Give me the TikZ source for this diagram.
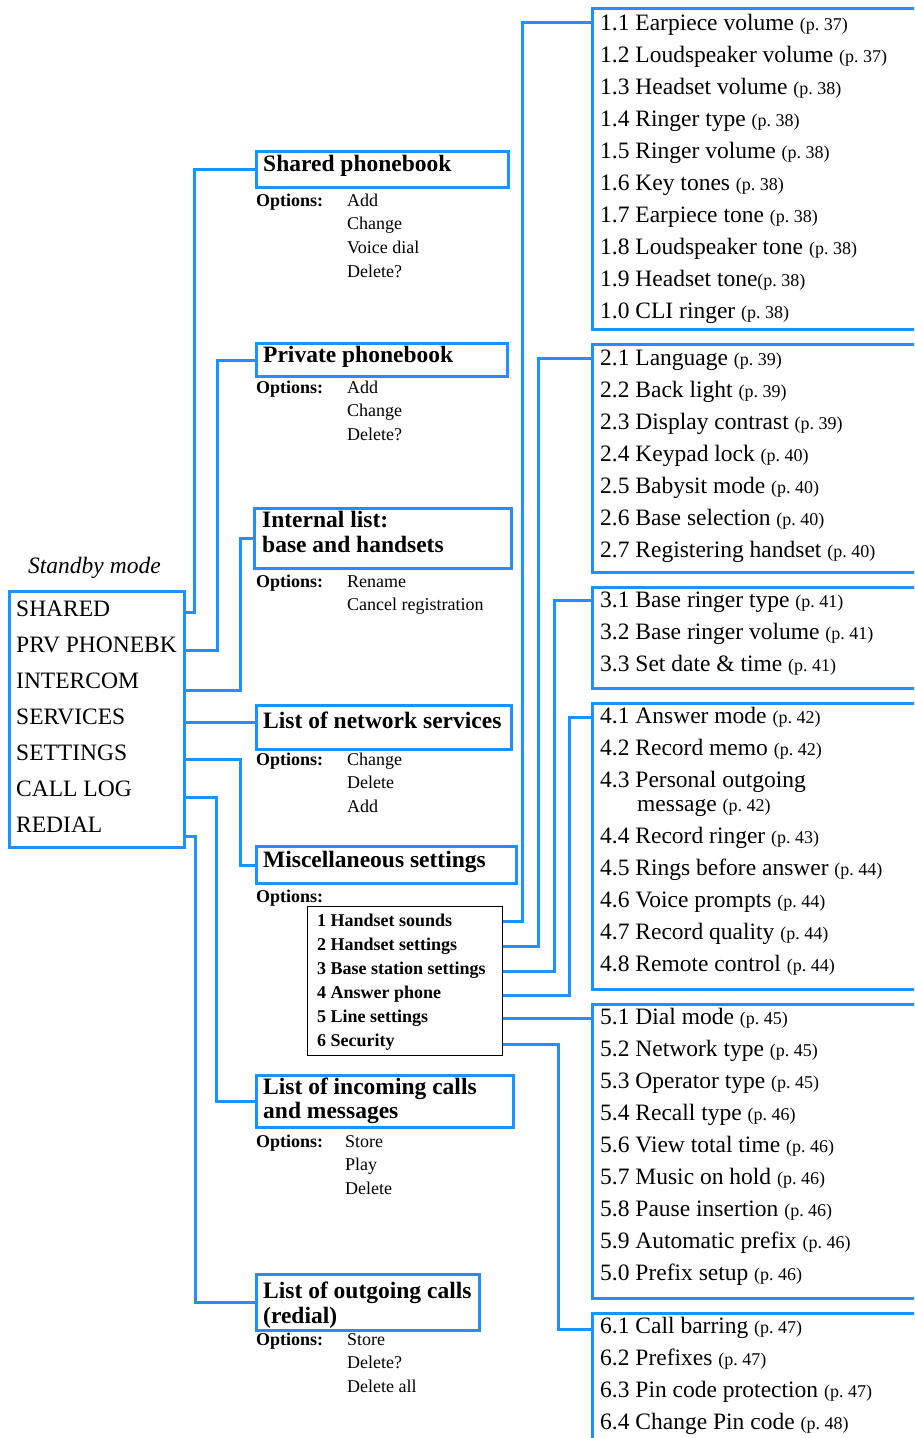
\documentclass[tikz,border=0pt]{standalone}
\usepackage{fontspec}
\setmainfont{Liberation Serif}
\definecolor{cblue}{RGB}{30,144,255}
\newcommand\mainsz{\fontsize{23.5}{28}\selectfont}
\newcommand\smallsz{\fontsize{18}{21}\selectfont}
\newcommand\pgnum[1]{{\smallsz(p.\ #1)}}
\begin{document}
\begin{tikzpicture}[x=1pt,y=-1pt,
  bbox/.style={draw=cblue, line width=3pt, rectangle, inner sep=0pt, anchor=north west},
  ibox/.style={draw=black, line width=1pt, rectangle, inner sep=0pt, anchor=north west},
  conn/.style={draw=cblue, line width=3pt, line join=miter},
  tx/.style={anchor=base west, inner sep=0pt, font=\mainsz},
  bt/.style={anchor=base west, inner sep=0pt, font=\mainsz\bfseries},
  op/.style={anchor=base west, inner sep=0pt, font=\smallsz\bfseries},
  oi/.style={anchor=base west, inner sep=0pt, font=\smallsz}]
\useasboundingbox (0,0) rectangle (914,1438);
\begin{scope}
\clip (0,0) rectangle (914,1438);

% ---------- standby box ----------
\node[tx, font=\mainsz\itshape] (sbt) at (28,573) {Standby mode};
\node[bbox, minimum width=175pt, minimum height=256pt] (sb) at (8,590) {};
\foreach \t [count=\i] in {SHARED, PRV PHONEBK, INTERCOM, SERVICES, SETTINGS, CALL LOG, REDIAL}
  \node[tx] (s\i) at (16,{616+36*(\i-1)}) {\t};

% ---------- middle boxes ----------
\node[bbox, minimum width=252pt, minimum height=36pt] (shp) at (255,150) {};
\node[bt] (shpt) at (263,171) {Shared phonebook};
\node[op] (shpo) at (256,206) {Options:};
\foreach \t [count=\i] in {Add, Change, Voice dial, Delete?}
  \node[oi] (shpi\i) at (347,{206+23.8*(\i-1)}) {\t};

\node[bbox, minimum width=251pt, minimum height=33pt] (pvp) at (255,342) {};
\node[bt] (pvpt) at (263,362) {Private phonebook};
\node[op] (pvpo) at (256,393) {Options:};
\foreach \t [count=\i] in {Add, Change, Delete?}
  \node[oi] (pvpi\i) at (347,{393+23.8*(\i-1)}) {\t};

\node[bbox, minimum width=257pt, minimum height=60pt] (inl) at (253,507) {};
\node[bt] (inlt1) at (262,527) {Internal list:};
\node[bt] (inlt2) at (262,552) {base and handsets};
\node[op] (inlo) at (256,587) {Options:};
\foreach \t [count=\i] in {Rename, Cancel registration}
  \node[oi] (inli\i) at (347,{587+23.8*(\i-1)}) {\t};

\node[bbox, minimum width=255pt, minimum height=44pt] (nws) at (255,704) {};
\node[bt] (nwst) at (263,728) {List of network services};
\node[op] (nwso) at (256,765) {Options:};
\foreach \t [count=\i] in {Change, Delete, Add}
  \node[oi] (nwsi\i) at (347,{765+23.8*(\i-1)}) {\t};

\node[bbox, minimum width=260pt, minimum height=37pt] (msc) at (255,845) {};
\node[bt] (msct) at (263,867) {Miscellaneous settings};
\node[op] (msco) at (256,902) {Options:};
\node[ibox, minimum width=195pt, minimum height=149pt] (mi) at (307,906) {};
\foreach \t [count=\i] in {1 Handset sounds, 2 Handset settings, 3 Base station settings, 4 Answer phone, 5 Line settings, 6 Security}
  \node[op] (mii\i) at (317,{926+24*(\i-1)}) {\t};

\node[bbox, minimum width=257pt, minimum height=52pt] (inc) at (255,1074) {};
\node[bt] (inct1) at (263,1094) {List of incoming calls};
\node[bt] (inct2) at (263,1118) {and messages};
\node[op] (inco) at (256,1147) {Options:};
\foreach \t [count=\i] in {Store, Play, Delete}
  \node[oi] (inci\i) at (345,{1147+23.8*(\i-1)}) {\t};

\node[bbox, minimum width=223pt, minimum height=56pt] (out) at (255,1273) {};
\node[bt] (outt1) at (263,1298) {List of outgoing calls};
\node[bt] (outt2) at (263,1323) {(redial)};
\node[op] (outo) at (256,1345) {Options:};
\foreach \t [count=\i] in {Store, Delete?, Delete all}
  \node[oi] (outi\i) at (347,{1345+23.8*(\i-1)}) {\t};

% ---------- right boxes ----------
\node[bbox, minimum width=334pt, minimum height=321pt] (r1) at (591,7) {};
\foreach \t [count=\i] in {{1.1 Earpiece volume \pgnum{37}}, {1.2 Loudspeaker volume \pgnum{37}},
  {1.3 Headset volume \pgnum{38}}, {1.4 Ringer type \pgnum{38}}, {1.5 Ringer volume \pgnum{38}},
  {1.6 Key tones \pgnum{38}}, {1.7 Earpiece tone \pgnum{38}}, {1.8 Loudspeaker tone \pgnum{38}},
  {1.9 Headset tone\pgnum{38}}, {1.0 CLI ringer \pgnum{38}}}
  \node[tx] (ra\i) at (600,{30+32*(\i-1)}) {\t};

\node[bbox, minimum width=334pt, minimum height=228pt] (r2) at (591,343) {};
\foreach \t [count=\i] in {{2.1 Language \pgnum{39}}, {2.2 Back light \pgnum{39}},
  {2.3 Display contrast \pgnum{39}}, {2.4 Keypad lock \pgnum{40}}, {2.5 Babysit mode \pgnum{40}},
  {2.6 Base selection \pgnum{40}}, {2.7 Registering handset \pgnum{40}}}
  \node[tx] (rb\i) at (600,{365+32*(\i-1)}) {\t};

\node[bbox, minimum width=334pt, minimum height=101pt] (r3) at (591,586) {};
\foreach \t [count=\i] in {{3.1 Base ringer type \pgnum{41}}, {3.2 Base ringer volume \pgnum{41}},
  {3.3 Set date \& time \pgnum{41}}}
  \node[tx] (rc\i) at (600,{607+32*(\i-1)}) {\t};

\node[bbox, minimum width=334pt, minimum height=286pt] (r4) at (591,702) {};
\node[tx] (rd1) at (600,723) {4.1 Answer mode \pgnum{42}};
\node[tx] (rd2) at (600,755) {4.2 Record memo \pgnum{42}};
\node[tx] (rd3) at (600,787) {4.3 Personal outgoing};
\node[tx] (rd3b) at (637,811) {message \pgnum{42}};
\node[tx] (rd4) at (600,843) {4.4 Record ringer \pgnum{43}};
\node[tx] (rd5) at (600,875) {4.5 Rings before answer \pgnum{44}};
\node[tx] (rd6) at (600,907) {4.6 Voice prompts \pgnum{44}};
\node[tx] (rd7) at (600,939) {4.7 Record quality \pgnum{44}};
\node[tx] (rd8) at (600,971) {4.8 Remote control \pgnum{44}};

\node[bbox, minimum width=334pt, minimum height=294pt] (r5) at (591,1003) {};
\foreach \t [count=\i] in {{5.1 Dial mode \pgnum{45}}, {5.2 Network type \pgnum{45}},
  {5.3 Operator type \pgnum{45}}, {5.4 Recall type \pgnum{46}}, {5.6 View total time \pgnum{46}},
  {5.7 Music on hold \pgnum{46}}, {5.8 Pause insertion \pgnum{46}}, {5.9 Automatic prefix \pgnum{46}},
  {5.0 Prefix setup \pgnum{46}}}
  \node[tx] (re\i) at (600,{1024+32*(\i-1)}) {\t};

\node[bbox, minimum width=334pt, minimum height=150pt] (r6) at (591,1312) {};
\foreach \t [count=\i] in {{6.1 Call barring \pgnum{47}}, {6.2 Prefixes \pgnum{47}},
  {6.3 Pin code protection \pgnum{47}}, {6.4 Change Pin code \pgnum{48}}}
  \node[tx] (rf\i) at (600,{1333+32*(\i-1)}) {\t};

% ---------- connectors from standby ----------
\draw[conn] (sb.east |- 0,612) -- ++(8,0) |- (shp.west);
\draw[conn] (sb.east |- 0,650) -- ++(31,0) |- (pvp.west);
\draw[conn] (sb.east |- 0,690) -- ++(54,0) |- (inl.west);
\draw[conn] (sb.east |- 0,722) -- (nws.west |- 0,722);
\draw[conn] (sb.east |- 0,759) -- ++(54,0) |- (msc.west);
\draw[conn] (sb.east |- 0,797) -- ++(30,0) |- (inc.west);
\draw[conn] (sb.east |- 0,836) -- ++(9,0) |- (out.west);

% ---------- connectors from misc options ----------
\draw[conn] (mi.east |- 0,921) -- ++(19,0) |- (r1.west |- 0,22);
\draw[conn] (mi.east |- 0,946) -- ++(35,0) |- (r2.west |- 0,358);
\draw[conn] (mi.east |- 0,971) -- ++(51,0) |- (r3.west |- 0,600);
\draw[conn] (mi.east |- 0,995) -- ++(66,0) |- (r4.west |- 0,717);
\draw[conn] (mi.east |- 0,1018) -- (r5.west |- 0,1018);
\draw[conn] (mi.east |- 0,1044) -- ++(55,0) |- (r6.west |- 0,1329);
\end{scope}
\end{tikzpicture}
\end{document}
